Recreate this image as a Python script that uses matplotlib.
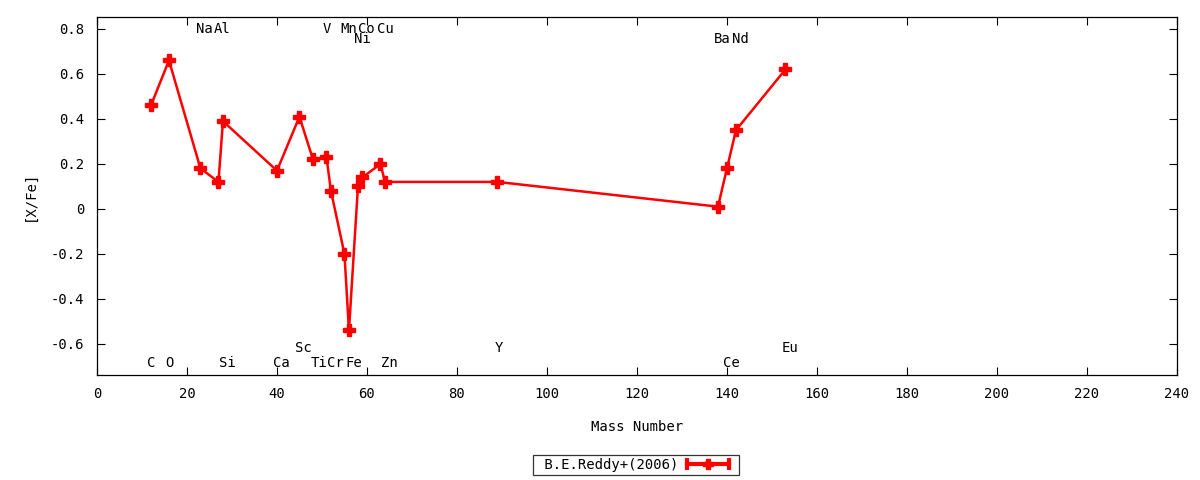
import matplotlib
matplotlib.use("Agg")
import matplotlib.pyplot as plt
from matplotlib.lines import Line2D
from matplotlib.legend_handler import HandlerBase

# abundance pattern, B.E.Reddy+(2006)
mass = [12, 16, 23, 27, 28, 40, 45, 48, 51, 52, 55, 56, 58, 59, 63, 64, 89, 138, 140, 142, 153]
xfe = [0.46, 0.66, 0.18, 0.12, 0.39, 0.17, 0.41, 0.22, 0.23, 0.08, -0.20, -0.54,
       0.10, 0.14, 0.20, 0.12, 0.12, 0.01, 0.18, 0.35, 0.62]

# element labels (text, x, y)
elem_names = ["C", "O", "Na", "Al", "Si", "Ca", "Sc", "Ti", "V", "Cr", "Mn", "Fe",
              "Co", "Ni", "Cu", "Zn", "Y", "Ba", "Ce", "Nd", "Eu"]
elem_x = [12.1, 16.1, 23.8, 27.9, 28.9, 41.0, 45.9, 49.3, 51.0, 53.0, 56.0, 57.0,
          59.9, 59.0, 64.0, 65.0, 89.4, 139.0, 141.0, 143.0, 154.0]
elem_y = [-0.685, -0.685, 0.80, 0.80, -0.685, -0.685, -0.62, -0.685, 0.80, -0.685, 0.80, -0.685,
          0.80, 0.755, 0.80, -0.685, -0.62, 0.755, -0.685, 0.755, -0.62]

xticks = list(range(0, 241, 20))
yticks = [-0.6, -0.4, -0.2, 0, 0.2, 0.4, 0.6, 0.8]
ytick_labels = ["-0.6", "-0.4", "-0.2", "0", "0.2", "0.4", "0.6", "0.8"]


class GnuplotKeyHandler(HandlerBase):
    # line with end caps and a plus in the middle, like gnuplot's key sample
    def create_artists(self, legend, orig_handle, xdescent, ydescent,
                       width, height, fontsize, trans):
        y = height / 2 - ydescent
        x0 = -xdescent
        x1 = x0 + width * 0.86
        line = Line2D([x0, x1], [y, y], color='red', lw=3, transform=trans)
        caps = Line2D([x0, x1], [y, y], ls='none', marker='|', ms=8, mew=3,
                      color='red', transform=trans)
        mid = Line2D([(x0 + x1) / 2], [y], ls='none', marker='P', ms=7,
                     color='red', transform=trans)
        return [line, caps, mid]


plt.rcParams['font.family'] = ['DejaVu Sans Mono']
plt.rcParams['font.size'] = 10

fig = plt.figure(figsize=(12, 4.8), dpi=100)
ax = fig.add_axes([0.0808, 0.21875, 0.9, 0.7459])

ax.plot(mass, xfe, color='red', lw=1.8, marker='P', ms=9, mec='red', mfc='red')

for name, x, y in zip(elem_names, elem_x, elem_y):
    ax.text(x, y, name, ha='center', va='center')

ax.set_xlim(0, 240)
ax.set_ylim(-0.738, 0.853)
ax.set_xticks(xticks)
ax.set_yticks(yticks)
ax.set_yticklabels(ytick_labels)
ax.tick_params(direction='in', top=True, right=True, length=6, width=0.8)
ax.tick_params(axis='y', pad=9)
ax.tick_params(axis='x', pad=9)
for s in ax.spines.values():
    s.set_linewidth(0.9)

ax.set_xlabel('Mass Number', labelpad=13)
ax.set_ylabel('[X/Fe]', labelpad=10)

key = Line2D([], [], color='red')
leg = ax.legend([key], [' B.E.Reddy+(2006)'],
                handler_map={key: GnuplotKeyHandler()},
                loc='center', bbox_to_anchor=(0.499, -0.2514), markerfirst=False,
                frameon=True, fancybox=False, edgecolor='black', handlelength=3.5,
                borderpad=0.2, handletextpad=0.65, borderaxespad=0)
leg.get_frame().set_linewidth(0.9)

fig.savefig('out.png', dpi=100)
